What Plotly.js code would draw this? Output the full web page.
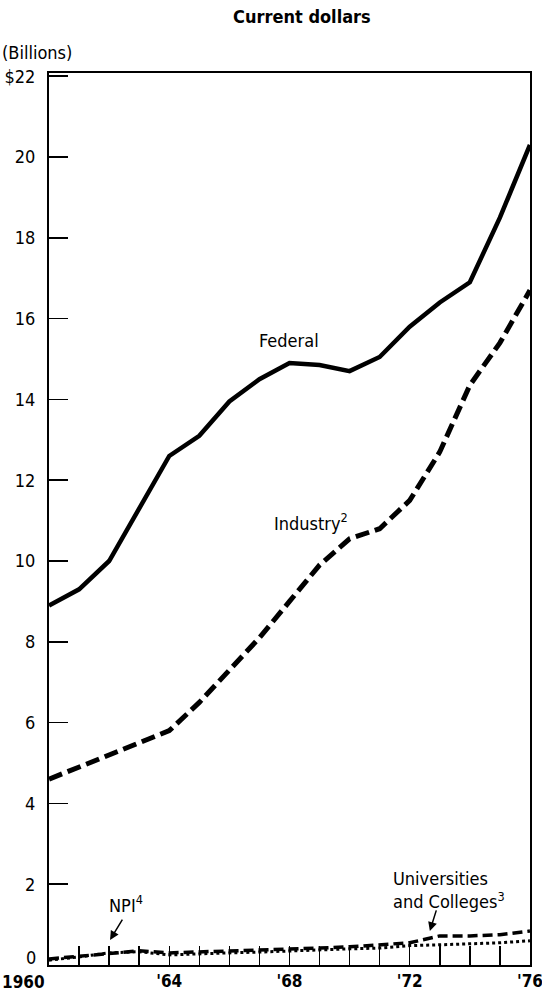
<!DOCTYPE html>
<html>
<head>
<meta charset="utf-8">
<script src="https://cdn.plot.ly/plotly-3.0.1.min.js"></script>
<style>
  html, body { margin: 0; padding: 0; background: #fff; }
  #chart { width: 542px; height: 993px; }
</style>
</head>
<body>
<div id="chart"></div>
<script>
// ---- data (billions of current dollars) ----
const years = [1960, 1961, 1962, 1963, 1964, 1965, 1966, 1967, 1968, 1969, 1970, 1971, 1972, 1973, 1974, 1975, 1976];
const federal = [8.9, 9.3, 10.0, 11.3, 12.6, 13.1, 13.95, 14.5, 14.9, 14.85, 14.7, 15.05, 15.8, 16.4, 16.9, 18.5, 20.3];
const industry = [4.6, 4.9, 5.2, 5.5, 5.8, 6.5, 7.3, 8.1, 9.0, 9.9, 10.55, 10.8, 11.5, 12.7, 14.35, 15.4, 16.7];
const universities = [0.15, 0.22, 0.3, 0.35, 0.3, 0.32, 0.35, 0.37, 0.4, 0.42, 0.45, 0.5, 0.55, 0.72, 0.72, 0.75, 0.84];
const npi = [0.12, 0.2, 0.3, 0.33, 0.25, 0.28, 0.3, 0.32, 0.35, 0.37, 0.4, 0.42, 0.48, 0.5, 0.52, 0.55, 0.6];

const yTickVals = [0, 2, 4, 6, 8, 10, 12, 14, 16, 18, 20, 22];
const yTickText = ["", "2", "4", "6", "8", "10", "12", "14", "16", "18", "20", "$22"];
const zeroLabel = "0";
const xTickVals = years;
const xTickText = ["", "", "", "", "'64", "", "", "", "'68", "", "", "", "'72", "", "", "", "'76"];
const firstYearLabel = "1960";

const FONT = "Liberation Sans Narrow, DejaVu Sans Condensed, Arial Narrow, sans-serif";

const traces = [
  { x: years, y: federal, mode: "lines", line: { color: "#000", width: 4.5, dash: "solid" }, name: "Federal" },
  { x: years, y: industry, mode: "lines", line: { color: "#000", width: 5, dash: "14px,6px" }, name: "Industry" },
  { x: years, y: universities, mode: "lines", line: { color: "#000", width: 3.5, dash: "10px,5px" }, name: "Universities and Colleges" },
  { x: years, y: npi, mode: "lines", line: { color: "#000", width: 3, dash: "dot" }, name: "NPI" }
];

const layout = {
  width: 542, height: 993,
  margin: { l: 49, r: 12, t: 73, b: 28 },
  paper_bgcolor: "#fff", plot_bgcolor: "#fff",
  showlegend: false,
  font: { family: FONT, color: "#000", size: 18 },
  title: {
    text: "<b>Current dollars</b>",
    x: 285 / 542, xanchor: "center", xref: "paper",
    y: 1 - 17 / 993, yanchor: "middle", yref: "container",
    font: { family: FONT, size: 18, color: "#000" }
  },
  xaxis: {
    range: [1959.999, 1976.002],
    tickmode: "array", tickvals: xTickVals, ticktext: xTickText,
    ticks: "inside", ticklen: 19, tickwidth: 1.5, tickcolor: "#000",
    showline: true, linecolor: "#000", linewidth: 2, mirror: true,
    showgrid: false, zeroline: false,
    tickfont: { family: FONT, size: 17, color: "#000", weight: "bold" },
    ticklabelstandoff: 0,
    ticklabeloverflow: "allow"
  },
  yaxis: {
    range: [0, 22.08],
    tickmode: "array", tickvals: yTickVals, ticktext: yTickText,
    ticks: "inside", ticklen: 19, tickwidth: 1.5, tickcolor: "#000",
    showline: true, linecolor: "#000", linewidth: 2, mirror: true,
    showgrid: false, zeroline: false,
    tickfont: { family: FONT, size: 18, color: "#000" },
    ticklabelstandoff: 8,
    ticklabeloverflow: "allow"
  },
  annotations: [
    { xref: "paper", yref: "paper", x: -49 / 481, y: 1 + (73 - 52) / 892, xanchor: "left", yanchor: "middle",
      text: "(Billions)", showarrow: false, font: { family: FONT, size: 18, color: "#000" } },
    { xref: "paper", yref: "paper", x: (38 - 49) / 481, y: (965 - 957) / 892, xanchor: "right", yanchor: "middle",
      text: zeroLabel, showarrow: false, font: { family: FONT, size: 18, color: "#000" } },
    { xref: "paper", yref: "paper", x: (23 - 49) / 481, y: -(982 - 965) / 892, xanchor: "center", yanchor: "middle",
      text: "<b>" + firstYearLabel + "</b>", showarrow: false, font: { family: FONT, size: 17, color: "#000" } },
    { x: 1968.0, y: 15.47, text: "Federal", showarrow: false, xanchor: "center", yanchor: "middle",
      font: { family: FONT, size: 18, color: "#000" } },
    { x: 1968.7, y: 10.97, text: "Industry<sup>2</sup>", showarrow: false, xanchor: "center", yanchor: "middle",
      font: { family: FONT, size: 18, color: "#000" } },
    { x: 1962.56, y: 1.5, text: "NPI<sup>4</sup>", showarrow: false, xanchor: "center", yanchor: "middle",
      font: { family: FONT, size: 18, color: "#000" } },
    { x: 1962.03, y: 0.62, ax: 1962.47, ay: 1.16, axref: "x", ayref: "y", text: "", showarrow: true,
      arrowhead: 2, arrowsize: 1.2, arrowwidth: 1.5, arrowcolor: "#000", standoff: 0 },
    { x: 1971.38, y: 1.86, text: "Universities<br>and Colleges<sup>3</sup>", showarrow: false, xanchor: "left", yanchor: "middle", align: "left",
      font: { family: FONT, size: 18, color: "#000" } },
    { x: 1972.67, y: 0.84, ax: 1972.9, ay: 1.39, axref: "x", ayref: "y", text: "", showarrow: true,
      arrowhead: 2, arrowsize: 1.2, arrowwidth: 1.5, arrowcolor: "#000", standoff: 0 }
  ]
};

Plotly.newPlot("chart", traces, layout, { staticPlot: true, displayModeBar: false });
</script>
</body>
</html>
